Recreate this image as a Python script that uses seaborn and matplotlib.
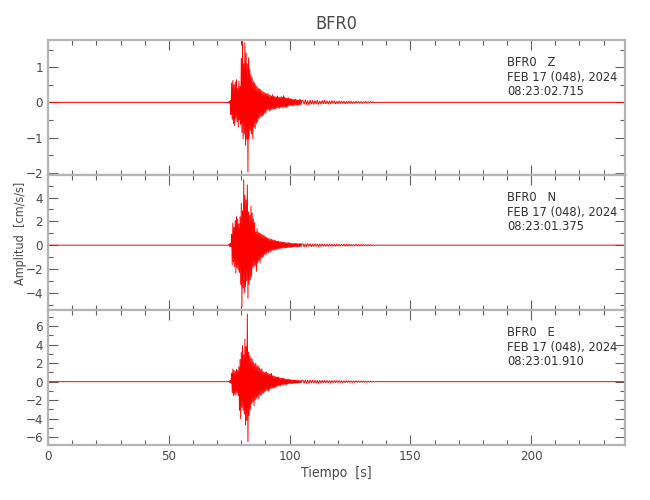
import numpy as np
import matplotlib
matplotlib.use('Agg')
import matplotlib.pyplot as plt
import seaborn as sns
from matplotlib import font_manager
from matplotlib.ticker import MultipleLocator

station = 'BFR0'
components = ['Z', 'N', 'E']
start_times = ['08:23:02.715', '08:23:01.375', '08:23:01.910']
date_str = 'FEB 17 (048), 2024'

# trace samples: main part every 0.25 s from 75 s,
# coda every 0.5 s from 105.5 s, zero elsewhere
main_t0, main_dt = 75.0, 0.25
coda_t0, coda_dt = 105.5, 0.5
t_end = 239.0

z_main = [
    0.03, -0.04, 0.05, -0.35,
    0.55, -0.48, 0.62, -0.60,
    0.50, -0.66, 0.58, -0.45,
    0.64, -0.55, 0.40, -0.70,
    0.60, -0.50, 0.45, -0.62,
    1.25, -0.85, 1.73, -1.03,
    1.10, -0.90, 1.69, -1.22,
    1.40, -1.05, 1.10, -1.98,
    1.26, -1.03, 0.95, -0.80,
    0.78, -0.90, 0.70, -1.03,
    0.59, -0.70, 0.55, -0.74,
    0.50, -0.60, 0.45, -0.55,
    0.40, -0.46, 0.38, -0.42,
    0.36, -0.40, 0.32, -0.38,
    0.30, -0.35, 0.28, -0.30,
    0.25, -0.28, 0.24, -0.22,
    0.26, -0.20, 0.22, -0.24,
    0.20, -0.22, 0.18, -0.20,
    0.22, -0.18, 0.17, -0.19,
    0.16, -0.18, 0.15, -0.16,
    0.18, -0.15, 0.14, -0.17,
    0.15, -0.14, 0.16, -0.13,
    0.14, -0.16, 0.19, -0.12,
    0.15, -0.13, 0.12, -0.14,
    0.12, -0.11, 0.13, -0.10,
    0.10, -0.09, 0.11, -0.08,
    0.09, -0.10, 0.08, -0.09,
    0.08, -0.07, 0.09, -0.08,
    0.07, -0.08, 0.06, -0.07,
    0.08, -0.06, 0.07, -0.06,
    0.05,
]
z_coda = [
    0.06, -0.05, 0.07, -0.06, 0.05, -0.07, 0.06, -0.05, 0.05, -0.06,
    0.05, -0.04, 0.06, -0.05, 0.04, -0.05, 0.05, -0.04, 0.06, -0.04,
    0.04, -0.05, 0.04, -0.04, 0.05, -0.03, 0.04, -0.04, 0.03, -0.04,
    0.04, -0.03, 0.04, -0.03, 0.03, -0.04, 0.03, -0.03, 0.04, -0.03,
    0.03, -0.03, 0.02, -0.03, 0.03, -0.02, 0.03, -0.02, 0.02, -0.03,
    0.02, -0.02, 0.03, -0.02, 0.02, -0.02, 0.02, -0.01, 0.02, -0.01,
]

n_main = [
    0.10, -0.12, 0.15, -0.10,
    0.90, -1.65, 1.85, -1.40,
    1.50, -1.80, 2.10, -2.35,
    2.40, -1.90, 2.20, -2.10,
    1.80, -2.30, 2.40, -3.30,
    3.50, -5.15, 2.90, -3.60,
    5.50, -4.00, 4.20, -3.50,
    3.80, -3.00, 5.07, -4.45,
    2.80, -3.30, 2.50, -2.90,
    3.25, -2.60, 2.70, -1.93,
    2.20, -1.80, 1.90, -1.70,
    1.15, -2.20, 1.40, -1.50,
    1.10, -1.30, 1.00, -1.50,
    0.95, -1.10, 0.90, -1.00,
    0.85, -0.95, 0.80, -0.75,
    0.70, -0.80, 0.65, -0.60,
    0.60, -0.65, 0.55, -0.50,
    0.50, -0.55, 0.48, -0.45,
    0.45, -0.40, 0.42, -0.38,
    0.40, -0.36, 0.34, -0.38,
    0.32, -0.30, 0.35, -0.28,
    0.28, -0.26, 0.30, -0.25,
    0.24, -0.22, 0.26, -0.20,
    0.22, -0.24, 0.20, -0.21,
    0.20, -0.18, 0.21, -0.17,
    0.18, -0.20, 0.16, -0.15,
    0.14, -0.15, 0.13, -0.14,
    0.15, -0.12, 0.14, -0.13,
    0.12, -0.14, 0.13, -0.11,
    0.13, -0.11, 0.12, -0.12,
    0.10,
]
n_coda = [
    0.12, -0.13, 0.11, -0.12, 0.13, -0.10, 0.11, -0.12, 0.10, -0.11,
    0.11, -0.09, 0.10, -0.11, 0.09, -0.10, 0.10, -0.08, 0.09, -0.09,
    0.08, -0.09, 0.09, -0.07, 0.08, -0.08, 0.07, -0.08, 0.08, -0.07,
    0.07, -0.07, 0.08, -0.06, 0.07, -0.07, 0.06, -0.07, 0.07, -0.06,
    0.06, -0.06, 0.05, -0.06, 0.06, -0.05, 0.05, -0.06, 0.05, -0.05,
    0.05, -0.04, 0.05, -0.05, 0.04, -0.04, 0.04, -0.03, 0.03, -0.03,
]

e_main = [
    0.08, -0.10, 0.12, -0.15,
    0.90, -1.20, 1.36, -1.50,
    1.20, -1.35, 1.10, -1.45,
    1.30, -1.20, 1.25, -1.50,
    1.60, -3.10, 2.40, -4.00,
    3.15, -2.80, 3.90, -3.10,
    2.90, -3.50, 4.60, -4.70,
    3.80, -4.20, 7.30, -6.50,
    3.20, -3.65, 2.80, -3.00,
    2.60, -2.40, 2.45, -2.20,
    2.10, -2.60, 1.90, -2.00,
    2.00, -1.80, 1.70, -1.60,
    1.70, -1.85, 1.50, -1.40,
    1.30, -1.50, 1.40, -1.20,
    1.10, -1.25, 1.00, -1.10,
    1.00, -0.95, 1.05, -0.90,
    0.90, -1.00, 0.85, -0.80,
    0.80, -0.75, 0.90, -0.70,
    0.65, -0.70, 0.60, -0.65,
    0.55, -0.60, 0.50, -0.52,
    0.48, -0.45, 0.50, -0.42,
    0.40, -0.44, 0.38, -0.36,
    0.35, -0.32, 0.36, -0.30,
    0.30, -0.28, 0.27, -0.30,
    0.26, -0.24, 0.25, -0.22,
    0.22, -0.20, 0.21, -0.19,
    0.18, -0.20, 0.17, -0.16,
    0.17, -0.15, 0.16, -0.15,
    0.14, -0.15, 0.13, -0.12,
    0.12, -0.13, 0.11, -0.12,
    0.10,
]
e_coda = [
    0.18, -0.16, 0.17, -0.18, 0.15, -0.17, 0.16, -0.14, 0.15, -0.16,
    0.14, -0.15, 0.13, -0.14, 0.14, -0.12, 0.13, -0.13, 0.12, -0.13,
    0.12, -0.11, 0.12, -0.12, 0.11, -0.10, 0.11, -0.11, 0.10, -0.10,
    0.10, -0.09, 0.10, -0.10, 0.09, -0.09, 0.08, -0.09, 0.09, -0.08,
    0.08, -0.08, 0.07, -0.08, 0.08, -0.07, 0.07, -0.07, 0.06, -0.07,
    0.06, -0.06, 0.06, -0.05, 0.05, -0.05, 0.05, -0.04, 0.04, -0.04,
]

y_limits = [(-2.06, 1.77), (-5.45, 5.9), (-6.85, 7.75)]
y_major = [1, 2, 2]
y_minor = [0.5, 1, 1]


def build_trace(main, coda):
    t_main = main_t0 + main_dt * np.arange(len(main))
    t_coda = coda_t0 + coda_dt * np.arange(len(coda))
    t_after = t_coda[-1] + coda_dt
    t = np.concatenate([[0.0, main_t0 - main_dt], t_main, t_coda, [t_after, t_end]])
    y = np.concatenate([[0.0, 0.0], main, coda, [0.0, 0.0]])
    return t, y


def pick_narrow_font():
    # the original uses a thin condensed plotter font; take a narrow sans if any
    best = None
    for f in font_manager.fontManager.ttflist:
        nm = f.name
        if any(w in nm for w in ('Mono', 'Serif', 'CJK', 'Math')):
            continue
        narrow = ('Narrow' in nm or 'Condensed' in nm
                  or f.stretch in ('condensed', 'semi-condensed', 'extra-condensed'))
        if not narrow or f.style != 'normal':
            continue
        w = f.weight if isinstance(f.weight, int) else 400
        score = abs(w - 350)
        if best is None or score < best[0]:
            best = (score, nm, f.stretch, w)
    if best is None:
        return 'Roboto', 'normal', 400
    return best[1], best[2], best[3]


traces = [build_trace(z_main, z_coda), build_trace(n_main, n_coda), build_trace(e_main, e_coda)]

sns.set_style('ticks')
fam, stretch, weight = pick_narrow_font()
plt.rcParams['font.family'] = [fam, 'DejaVu Sans']
plt.rcParams['font.stretch'] = stretch
plt.rcParams['font.weight'] = weight

axis_grey = '#b4b4b4'
text_grey = '#4a4a4a'

fig, axes = plt.subplots(3, 1, sharex=True, figsize=(6.5, 5), dpi=100,
                         gridspec_kw={'hspace': 0})
fig.subplots_adjust(left=0.074, right=0.962, top=0.92, bottom=0.11)

for i, ax in enumerate(axes):
    t, y = traces[i]
    sns.lineplot(x=t, y=y, ax=ax, color='#ff0000', linewidth=0.7,
                 estimator=None, sort=False)
    ax.set_xlim(0, t_end)
    ax.set_ylim(*y_limits[i])
    ax.xaxis.set_major_locator(MultipleLocator(50))
    ax.xaxis.set_minor_locator(MultipleLocator(10))
    ax.yaxis.set_major_locator(MultipleLocator(y_major[i]))
    ax.yaxis.set_minor_locator(MultipleLocator(y_minor[i]))
    ax.tick_params(which='both', direction='in', top=True, right=True,
                   color='#606060', width=0.8, labelcolor=text_grey, labelsize=9.5)
    ax.tick_params(which='major', length=7)
    ax.tick_params(which='minor', length=3.6)
    for sp in ax.spines.values():
        sp.set_color(axis_grey)
        sp.set_linewidth(1.6)
    ax.set_ylabel('')
    lines = [f'{station}   {components[i]}', date_str, start_times[i]]
    for k, s in enumerate(lines):
        ax.text(0.795, 0.835 - k * 0.11, s, transform=ax.transAxes,
                ha='left', va='center', fontsize=9.2, color='#303030')

axes[0].set_title(station, fontsize=13, color=text_grey, pad=8)
axes[1].set_ylabel('Amplitud  [cm/s/s]', fontsize=9, color=text_grey)
axes[1].yaxis.set_label_coords(-0.037, 0.566)
axes[2].set_xlabel('Tiempo  [s]', fontsize=10, color=text_grey, labelpad=2)

fig.savefig('out.png', dpi=100)
